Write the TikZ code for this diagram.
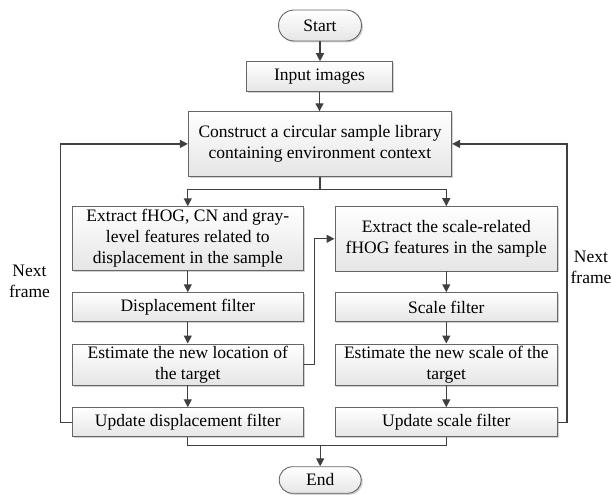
\documentclass[tikz,border=0pt]{standalone}
\usepackage{fontspec}
\setmainfont{Liberation Serif}
\usetikzlibrary{arrows.meta,shapes.misc,shadows}
\tikzset{
  box/.style={draw=black!60, line width=0.9pt, top color=white, bottom color=black!10,
    drop shadow={shadow xshift=1.5pt, shadow yshift=-1.5pt, fill=black!30, opacity=0.6},
    align=center, inner sep=0pt, font=\fontsize{17.5}{21}\selectfont},
  term/.style={box, rounded rectangle},
  conn/.style={draw=black!75, line width=1.3pt, -{Triangle[length=8pt,width=8pt]}},
  wire/.style={draw=black!75, line width=1.3pt},
  lbl/.style={align=center, font=\fontsize{17.5}{21}\selectfont}
}
\begin{document}
\begin{tikzpicture}[x=1pt,y=-1pt]
\useasboundingbox (0,0) rectangle (611,495);
\node[term, minimum width=83pt, minimum height=31pt] (start) at (320,25.5) {Start};
\node[box, minimum width=146.7pt, minimum height=30.3pt] (input) at (319.5,76.8) {Input images};
\node[box, minimum width=263.4pt, minimum height=64.3pt] (cons) at (320,143.9) {Construct a circular sample library\\containing environment context};
\node[box, minimum width=231pt, minimum height=63.3pt] (ext1) at (187.8,238.4) {Extract fHOG, CN and gray-\\level features related to\\displacement in the sample};
\node[box, minimum width=222.7pt, minimum height=64.3pt] (ext2) at (446.3,238.8) {Extract the scale-related\\fHOG features in the sample};
\node[box, minimum width=231pt, minimum height=29pt] (disp) at (187.8,307.2) {Displacement filter};
\node[box, minimum width=222.7pt, minimum height=29pt] (scl) at (446.3,307.2) {Scale filter};
\node[box, minimum width=231pt, minimum height=41pt] (est1) at (187.8,364.5) {Estimate the new location of\\the target};
\node[box, minimum width=222.7pt, minimum height=41pt] (est2) at (446.3,364.5) {Estimate the new scale of the\\target};
\node[box, minimum width=231pt, minimum height=29pt] (upd1) at (187.8,422.2) {Update displacement filter};
\node[box, minimum width=222.7pt, minimum height=29pt] (upd2) at (446.3,422.2) {Update scale filter};
\node[term, minimum width=82pt, minimum height=26.5pt] (end) at (320.2,480) {End};
\node[lbl] (nf1) at (29.5,281.5) {Next\\frame};
\node[lbl] (nf2) at (591,267.5) {Next\\frame};

\draw[conn] (start.south) -- (start.south |- input.north);
\draw[conn] (input.south) -- (input.south |- cons.north);
\draw[wire] (cons.south) -- ++(0,12.7) coordinate (br);
\draw[conn] (br) -| (ext1.north);
\draw[conn] (br) -| (ext2.north);
\draw[conn] (ext1) -- (disp);
\draw[conn] (disp) -- (est1);
\draw[conn] (est1) -- (upd1);
\draw[conn] (ext2) -- (scl);
\draw[conn] (scl) -- (est2);
\draw[conn] (est2) -- (upd2);
\draw[conn] (est1.east) -- ++(11,0) |- (ext2.west);
\draw[conn] (upd1.west) -- ++(-11.5,0) |- (cons.west);
\draw[conn] (upd2.east) -- ++(8.8,0) |- (cons.east);
\draw[wire] (upd1.south) -- ++(0,8.3) -| (upd2.south);
\draw[conn] (end.north |- upd1.south) ++(0,8.3) -- (end.north);
\end{tikzpicture}
\end{document}
